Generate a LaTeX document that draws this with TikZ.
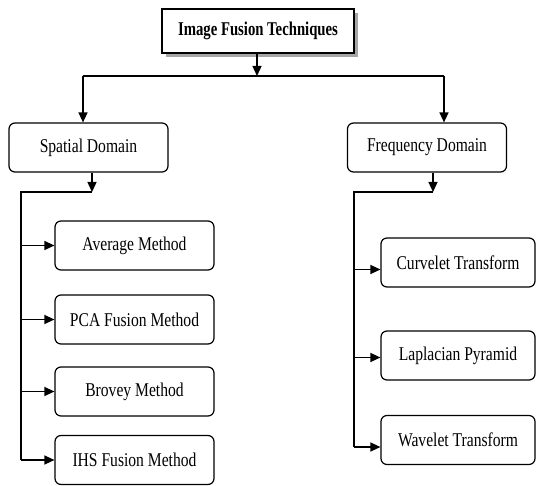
\documentclass[tikz,border=0pt]{standalone}
\usepackage{fontspec}
\setmainfont[FakeStretch=0.8]{Liberation Serif}
\newfontfamily\titlefont[FakeStretch=0.755]{Liberation Serif}
\usepackage{tikz}
\usetikzlibrary{arrows.meta}
\usetikzlibrary{shadows}
\usetikzlibrary{positioning}
\usetikzlibrary{calc}

\begin{document}
\begin{tikzpicture}[x=1pt,y=-1pt,
        every node/.style={font=\fontsize{19.5}{21}\selectfont},
        boxnode/.style={draw=black,line width=1.2pt,rounded corners=6pt,fill=white,
                minimum height=49pt,inner sep=0pt},
        topnode/.style={draw=black,line width=1.2pt,fill=white,minimum width=192pt,
                minimum height=44pt,inner sep=0pt,font=\fontsize{19.5}{21}\titlefont\bfseries,
                drop shadow={shadow xshift=4pt,shadow yshift=-4pt,fill=gray!70,opacity=1}},
        link/.style={draw=black,line width=1.3pt},
        arr/.style={link,-{Triangle[length=10pt,width=9pt]}}]
        \useasboundingbox (0,0) rectangle (537,486);
        \node[topnode] (fusion) at (258,31) {Image Fusion Techniques};
        \begin{scope}[every node/.append style={boxnode,minimum width=159pt}]
        \node (spatial) at (88.5,147.5) {Spatial Domain};
        \node (freq) at (427,147.5) {Frequency Domain};
        \node (avg) at (134.5,245.5) {Average Method};
        \node (pca) at (134.5,319.5) {PCA Fusion Method};
        \node (brovey) at (134.5,391.5) {Brovey Method};
        \node (ihs) at (134.5,460) {IHS Fusion Method};
        \end{scope}
        \begin{scope}[every node/.append style={boxnode,minimum width=154pt}]
        \node (curv) at (458,262.5) {Curvelet Transform};
        \node (lap) at (458,355.5) {Laplacian Pyramid};
        \node (wave) at (458,440) {Wavelet Transform};
        \end{scope}
        % junction points
        \coordinate (mid) at (257,76);
        \coordinate (sl) at (83,76);
        \coordinate (fr) at (444,76);
        \coordinate (sd) at (92,192);
        \coordinate (sb) at (21,192);
        \coordinate (fd) at (433,192);
        \coordinate (fb) at (354,192);
        \coordinate (cin) at ([yshift=-7pt]curv.west);
        \coordinate (lin) at ([yshift=-2pt]lap.west);
        \coordinate (win) at ([yshift=-7pt]wave.west);
        \begin{scope}[every edge/.style={arr}]
        \path (fusion.south -| mid) edge (mid);
        \path (sl) edge (sl |- spatial.north);
        \path (fr) edge (fr |- freq.north);
        \path (spatial.south -| sd) edge (sd);
        \path (freq.south -| fd) edge (fd);
        \path (sb |- avg.west) edge (avg.west);
        \path (sb |- pca.west) edge (pca.west);
        \path (sb |- brovey.west) edge (brovey.west);
        \path (sb |- ihs.west) edge (ihs.west);
        \path (fb |- cin) edge (cin);
        \path (fb |- lin) edge (lin);
        \path (fb |- win) edge (win);
        \end{scope}
        \draw[link] (sl) -- (fr);
        \draw[link] (sd) -- (sb) -- (sb |- ihs.west);
        \draw[link] (fd) -- (fb) -- (fb |- win);
\end{tikzpicture}
\end{document}
